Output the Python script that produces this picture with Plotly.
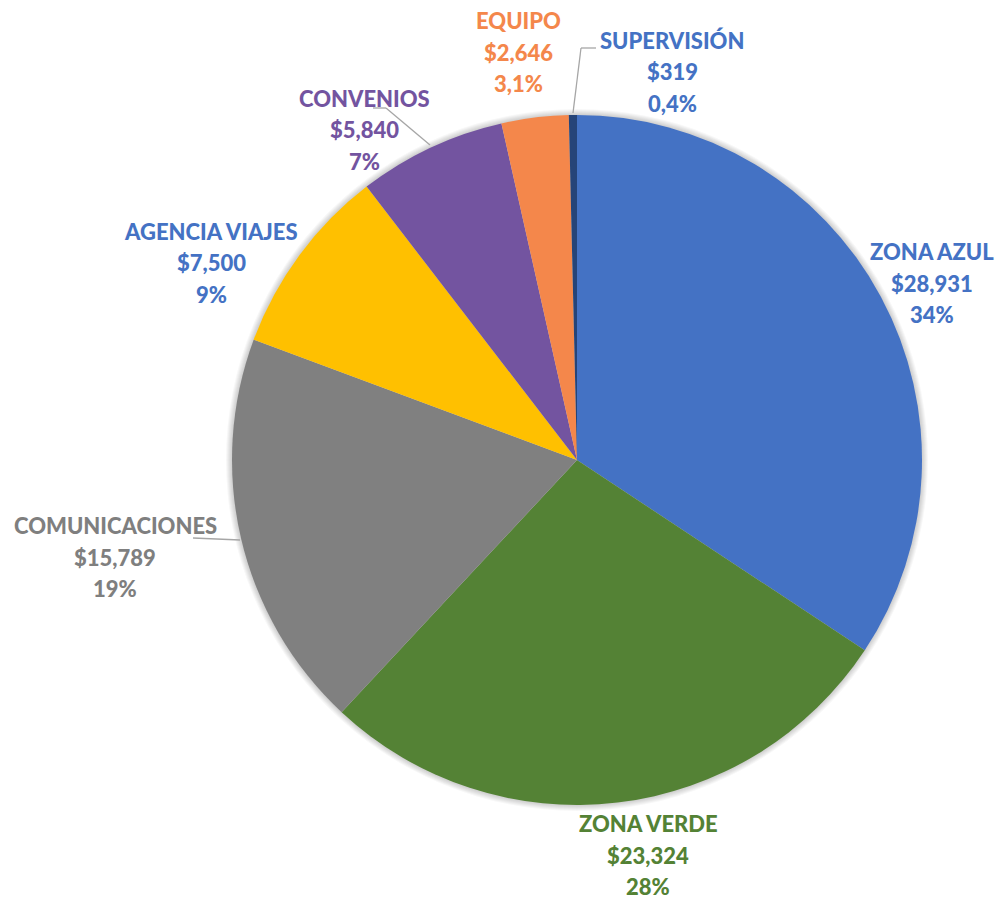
import plotly.graph_objects as go

categories = ["ZONA AZUL", "ZONA VERDE", "COMUNICACIONES", "AGENCIA VIAJES", "CONVENIOS", "EQUIPO", "SUPERVISIÓN"]
values = [28931, 23324, 15789, 7500, 5840, 2646, 319]
pct_labels = ["34%", "28%", "19%", "9%", "7%", "3,1%", "0,4%"]

slice_colors = ["#4472C4", "#548235", "#808080", "#FFC000", "#7354A0", "#F4874B", "#264478"]
text_colors = ["#4472C4", "#548235", "#7F7F7F", "#4472C4", "#7354A0", "#F4874B", "#4472C4"]

W, H = 1002, 900
CX, CY, R = 577, 460, 345
# label block centre (middle line), pixel offset from pie centre
label_offsets = [(355, -177), (71, 395), (-462, 97), (-366, -197), (-213, -330), (-59, -408), (95, -388)]
LINE_GAP = 31.5
FONT = "Lato"
FSIZE = 22

def px(x):
    return x / W

def py(y):
    return 1 - y / H

fig = go.Figure()
fig.add_trace(go.Pie(
    labels=categories, values=values, sort=False, direction="clockwise", rotation=0,
    marker=dict(colors=slice_colors, line=dict(width=0)),
    textinfo="none", hoverinfo="label+value+percent", showlegend=False,
    domain=dict(x=[px(CX - R), px(CX + R)], y=[py(CY + R), py(CY - R)]),
))

annotations = []
for name, v, p, col, (dx, dy) in zip(categories, values, pct_labels, text_colors, label_offsets):
    lines = [name, "${:,}".format(v), p]
    for i, t in enumerate(lines):
        annotations.append(dict(
            x=px(CX + dx), y=py(CY + dy + (i - 1) * LINE_GAP), xref="paper", yref="paper",
            text=t, showarrow=False, xanchor="center", yanchor="middle", borderpad=0,
            font=dict(family=FONT, size=FSIZE, color=col, weight=900),
        ))

shapes = []
# soft glow/shadow around the pie
for k in range(6, 0, -1):
    rr = R + k
    shapes.append(dict(type="circle", xref="paper", yref="paper", layer="below",
                       x0=px(CX - rr), x1=px(CX + rr), y0=py(CY + rr), y1=py(CY - rr),
                       fillcolor="rgba(0,0,0,0.03)", line=dict(width=0)))

# leader lines (pixel polylines)
leaders = [
    [(240, 540), (193, 538)],
    [(430, 145), (386, 108), (373, 108)],
    [(573, 113), (581, 48), (596, 48)],
]
for pts in leaders:
    for (x0, y0), (x1, y1) in zip(pts[:-1], pts[1:]):
        shapes.append(dict(type="line", xref="paper", yref="paper",
                           x0=px(x0), y0=py(y0), x1=px(x1), y1=py(y1),
                           line=dict(color="#A6A6A6", width=1.3)))

fig.update_layout(
    width=W, height=H, margin=dict(l=0, r=0, t=0, b=0),
    paper_bgcolor="white", plot_bgcolor="white",
    annotations=annotations, shapes=shapes,
)
fig.write_html("out.html")
